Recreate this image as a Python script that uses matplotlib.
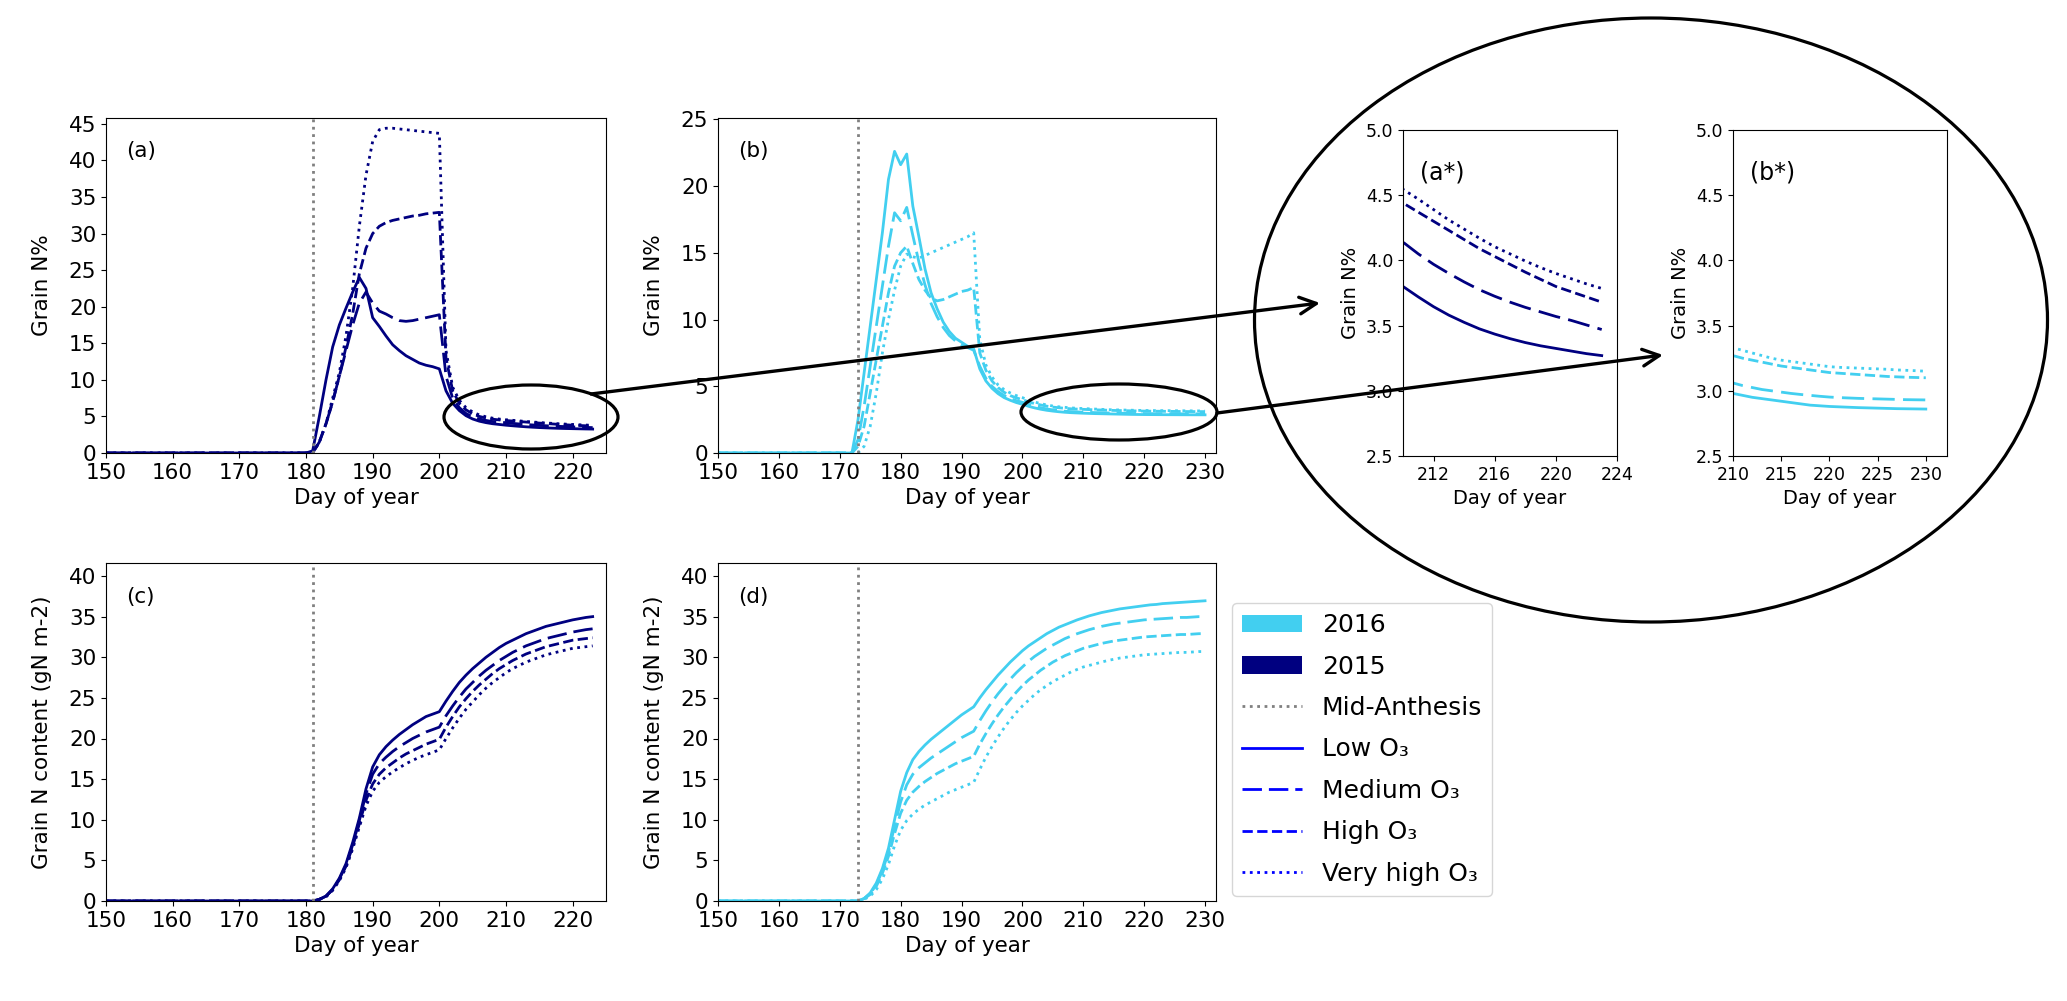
import numpy as np
import matplotlib.pyplot as plt
from matplotlib.patches import Ellipse, FancyArrowPatch, Patch
from matplotlib.lines import Line2D

W, H = 2067, 1001

# ---- data -------------------------------------------------------------
anthesis_2015 = 181
anthesis_2016 = 173
days_2015 = np.arange(150, 224)
days_2016 = np.arange(150, 231)
treatments = ['Low', 'Medium', 'High', 'Very high']

# grain N% 2015, days 181..223 (zero before anthesis)
npct_2015_low = [0.3, 5.0, 10.0, 14.5, 17.5, 19.8, 22.0, 24.0, 22.5, 18.5,
                 17.3, 16.0, 14.8, 14.0, 13.3, 12.8, 12.3, 12.0, 11.8, 11.5,
                 8.5, 6.8, 5.8, 5.1, 4.65, 4.35, 4.15, 4.0, 3.9, 3.80,
                 3.72, 3.645, 3.58, 3.525, 3.475, 3.435, 3.40, 3.37, 3.345, 3.325, 3.305, 3.285, 3.27]
npct_2015_med = [0.0, 1.5, 4.0, 7.0, 10.5, 14.0, 17.5, 20.5, 22.0, 20.5,
                 19.4, 19.0, 18.5, 18.1, 18.0, 18.1, 18.3, 18.5, 18.7, 18.9,
                 10.5, 7.5, 6.2, 5.4, 4.95, 4.65, 4.45, 4.3, 4.22, 4.14,
                 4.05, 3.97, 3.90, 3.835, 3.775, 3.725, 3.68, 3.64, 3.605, 3.57, 3.54, 3.505, 3.47]
npct_2015_high = [0.0, 1.5, 4.0, 7.0, 10.5, 14.5, 19.0, 24.5, 28.0, 30.0,
                  31.0, 31.5, 31.8, 32.0, 32.2, 32.4, 32.5, 32.7, 32.8, 32.9,
                  13.0, 8.5, 6.8, 5.9, 5.35, 5.0, 4.78, 4.62, 4.52, 4.44,
                  4.37, 4.30, 4.23, 4.16, 4.09, 4.03, 3.97, 3.91, 3.855, 3.80, 3.76, 3.72, 3.68]
npct_2015_vhigh = [0.0, 1.5, 4.0, 7.5, 11.0, 16.0, 22.5, 31.0, 38.0, 42.6,
                   44.2, 44.4, 44.4, 44.3, 44.2, 44.1, 44.0, 43.9, 43.8, 43.7,
                   14.0, 9.0, 7.2, 6.2, 5.6, 5.2, 4.95, 4.76, 4.64, 4.545,
                   4.47, 4.39, 4.31, 4.24, 4.17, 4.105, 4.05, 3.995, 3.945, 3.90, 3.86, 3.82, 3.785]

# grain N% 2016, days 173..230
npct_2016_low = [2.5, 6.0, 9.5, 13.0, 16.5, 20.5, 22.6, 21.6, 22.4, 18.5,
                 16.2, 13.8, 12.0, 10.8, 9.8, 9.1, 8.6, 8.3, 8.0, 7.8,
                 6.3, 5.4, 4.85, 4.45, 4.15, 3.95, 3.78, 3.65, 3.5, 3.38,
                 3.28, 3.2, 3.14, 3.09, 3.05, 3.02, 3.0, 2.98, 2.965, 2.95,
                 2.94, 2.93, 2.92, 2.91, 2.9, 2.89, 2.885, 2.88, 2.877, 2.874,
                 2.871, 2.869, 2.867, 2.865, 2.863, 2.862, 2.861, 2.86]
npct_2016_med = [1.0, 3.5, 6.5, 9.5, 12.5, 15.5, 18.0, 17.4, 18.4, 16.3,
                 14.3, 12.6, 11.2, 10.2, 9.4, 8.8, 8.4, 8.1, 7.9, 7.7,
                 6.5, 5.6, 5.0, 4.6, 4.3, 4.08, 3.92, 3.8, 3.64, 3.5,
                 3.39, 3.3, 3.23, 3.17, 3.13, 3.1, 3.08, 3.06, 3.04, 3.025,
                 3.01, 3.0, 2.99, 2.98, 2.972, 2.965, 2.958, 2.952, 2.948, 2.945,
                 2.942, 2.94, 2.938, 2.936, 2.934, 2.932, 2.931, 2.93]
npct_2016_high = [0.5, 2.0, 4.5, 7.0, 9.5, 12.0, 14.0, 15.0, 15.5, 14.2,
                  13.0, 12.2, 11.6, 11.4, 11.5, 11.7, 11.9, 12.1, 12.2, 12.4,
                  7.5, 6.2, 5.4, 4.9, 4.55, 4.3, 4.13, 4.0, 3.84, 3.7,
                  3.6, 3.51, 3.44, 3.39, 3.35, 3.31, 3.29, 3.27, 3.25, 3.235,
                  3.22, 3.205, 3.19, 3.18, 3.17, 3.16, 3.15, 3.14, 3.135, 3.13,
                  3.125, 3.12, 3.115, 3.11, 3.107, 3.104, 3.102, 3.10]
npct_2016_vhigh = [0.0, 0.5, 2.0, 4.5, 7.5, 10.0, 12.2, 14.0, 14.9, 14.7,
                   14.6, 14.8, 15.0, 15.2, 15.4, 15.6, 15.8, 16.0, 16.2, 16.5,
                   8.5, 6.6, 5.7, 5.1, 4.75, 4.5, 4.3, 4.15, 3.97, 3.82,
                   3.7, 3.6, 3.52, 3.46, 3.42, 3.38, 3.35, 3.33, 3.31, 3.29,
                   3.27, 3.25, 3.235, 3.225, 3.215, 3.205, 3.195, 3.185, 3.18, 3.177,
                   3.174, 3.171, 3.168, 3.165, 3.16, 3.157, 3.154, 3.15]

# grain N content (gN m-2) 2015, days 181..223
ncont_2015_low = [0.0, 0.2, 0.6, 1.5, 2.8, 4.6, 7.2, 10.2, 13.8, 16.5,
                  18.0, 19.0, 19.8, 20.5, 21.1, 21.7, 22.2, 22.7, 23.0, 23.3,
                  24.6, 25.8, 26.9, 27.8, 28.6, 29.3, 30.0, 30.6, 31.2, 31.7,
                  32.1, 32.5, 32.9, 33.2, 33.5, 33.8, 34.0, 34.2, 34.4, 34.6, 34.75, 34.9, 35.0]
ncont_2015_med = [0.0, 0.2, 0.6, 1.4, 2.7, 4.4, 6.9, 9.9, 13.2, 15.6,
                  16.9, 17.7, 18.4, 19.0, 19.5, 20.0, 20.4, 20.8, 21.1, 21.4,
                  22.8, 24.0, 25.1, 26.1, 26.9, 27.7, 28.4, 29.0, 29.6, 30.1,
                  30.6, 31.0, 31.4, 31.7, 32.0, 32.3, 32.5, 32.7, 32.9, 33.1, 33.25, 33.4, 33.5]
ncont_2015_high = [0.0, 0.2, 0.6, 1.4, 2.6, 4.3, 6.7, 9.5, 12.4, 14.4,
                   15.6, 16.4, 17.0, 17.6, 18.1, 18.5, 18.9, 19.3, 19.6, 19.9,
                   21.4, 22.7, 23.9, 24.9, 25.8, 26.6, 27.3, 28.0, 28.6, 29.1,
                   29.6, 30.0, 30.4, 30.7, 31.0, 31.3, 31.5, 31.7, 31.9, 32.1, 32.2, 32.3, 32.4]
ncont_2015_vhigh = [0.0, 0.2, 0.5, 1.3, 2.5, 4.1, 6.4, 9.1, 11.7, 13.5,
                    14.6, 15.3, 15.9, 16.4, 16.9, 17.3, 17.7, 18.0, 18.3, 18.6,
                    20.0, 21.3, 22.5, 23.6, 24.5, 25.4, 26.2, 26.9, 27.5, 28.1,
                    28.6, 29.0, 29.4, 29.7, 30.0, 30.3, 30.5, 30.7, 30.9, 31.1, 31.2, 31.3, 31.4]

# grain N content (gN m-2) 2016, days 173..230
ncont_2016_low = [0.0, 0.3, 1.0, 2.2, 4.0, 6.5, 10.0, 13.5, 15.8, 17.4,
                  18.4, 19.2, 19.9, 20.5, 21.1, 21.7, 22.3, 22.9, 23.4, 23.9,
                  25.0, 26.0, 26.9, 27.8, 28.6, 29.4, 30.1, 30.8, 31.4, 31.9,
                  32.4, 32.9, 33.3, 33.7, 34.0, 34.3, 34.6, 34.85, 35.1, 35.3,
                  35.5, 35.65, 35.8, 35.95, 36.05, 36.15, 36.25, 36.35, 36.45, 36.5,
                  36.6, 36.65, 36.7, 36.75, 36.8, 36.85, 36.9, 36.95]
ncont_2016_med = [0.0, 0.3, 0.9, 2.0, 3.7, 6.0, 9.2, 12.2, 14.3, 15.6,
                  16.4, 17.0, 17.6, 18.1, 18.6, 19.1, 19.6, 20.1, 20.5, 20.9,
                  22.2, 23.4, 24.5, 25.5, 26.4, 27.3, 28.1, 28.8, 29.5, 30.1,
                  30.6, 31.1, 31.5, 31.9, 32.3, 32.6, 32.9, 33.15, 33.4, 33.6,
                  33.8, 33.95, 34.1, 34.2, 34.3, 34.4, 34.5, 34.6, 34.65, 34.7,
                  34.75, 34.8, 34.85, 34.9, 34.9, 34.95, 35.0, 35.0]
ncont_2016_high = [0.0, 0.3, 0.8, 1.8, 3.4, 5.5, 8.3, 10.8, 12.4, 13.4,
                   14.1, 14.7, 15.2, 15.7, 16.1, 16.5, 16.9, 17.2, 17.5, 17.8,
                   19.3, 20.6, 21.8, 22.9, 23.9, 24.8, 25.7, 26.5, 27.2, 27.8,
                   28.4, 28.9, 29.4, 29.8, 30.2, 30.5, 30.8, 31.1, 31.3, 31.5,
                   31.7, 31.85, 32.0, 32.1, 32.2, 32.3, 32.4, 32.5, 32.55, 32.6,
                   32.65, 32.7, 32.75, 32.8, 32.8, 32.85, 32.9, 32.9]
ncont_2016_vhigh = [0.0, 0.2, 0.6, 1.4, 2.7, 4.5, 6.8, 8.7, 9.9, 10.7,
                    11.3, 11.8, 12.2, 12.6, 13.0, 13.4, 13.7, 14.0, 14.3, 14.6,
                    16.2, 17.7, 19.0, 20.2, 21.3, 22.3, 23.2, 24.0, 24.7, 25.4,
                    26.0, 26.5, 27.0, 27.4, 27.8, 28.2, 28.5, 28.8, 29.0, 29.2,
                    29.4, 29.6, 29.75, 29.9, 30.0, 30.1, 30.2, 30.3, 30.35, 30.4,
                    30.45, 30.5, 30.55, 30.6, 30.6, 30.65, 30.7, 30.7]

# ---- style ------------------------------------------------------------
c2015 = '#000080'
c2016 = '#42CFF0'
FS = 15.5
line_styles = ['-', (0, (7, 2.5)), '--', ':']
inset_styles = ['-', (0, (8, 3)), '--', ':']


def full(days, anthesis, vals):
    # pad with zeros up to anthesis
    n_pre = anthesis - days[0]
    return np.concatenate([np.zeros(n_pre), vals])


def rect(left, top, right, bottom):
    return [left / W, 1 - bottom / H, (right - left) / W, (bottom - top) / H]


def draw(ax, days, anthesis, series, color, styles, vline=True):
    for vals, ls in zip(series, styles):
        ax.plot(days, full(days, anthesis, vals), color=color, linestyle=ls, linewidth=2)
    if vline:
        ax.axvline(anthesis, color='grey', linestyle=':', linewidth=2)


npct_2015 = [npct_2015_low, npct_2015_med, npct_2015_high, npct_2015_vhigh]
npct_2016 = [npct_2016_low, npct_2016_med, npct_2016_high, npct_2016_vhigh]
ncont_2015 = [ncont_2015_low, ncont_2015_med, ncont_2015_high, ncont_2015_vhigh]
ncont_2016 = [ncont_2016_low, ncont_2016_med, ncont_2016_high, ncont_2016_vhigh]

fig = plt.figure(figsize=(W / 100, H / 100), dpi=100)

ax_a = fig.add_axes(rect(106, 118, 606, 453))
ax_b = fig.add_axes(rect(718, 118, 1216, 453))
ax_c = fig.add_axes(rect(106, 563, 606, 901))
ax_d = fig.add_axes(rect(718, 563, 1216, 901))
ax_as = fig.add_axes(rect(1403, 130, 1617, 456))
ax_bs = fig.add_axes(rect(1733, 130, 1947, 456))

draw(ax_a, days_2015, anthesis_2015, npct_2015, c2015, line_styles)
draw(ax_b, days_2016, anthesis_2016, npct_2016, c2016, line_styles)
draw(ax_c, days_2015, anthesis_2015, ncont_2015, c2015, line_styles)
draw(ax_d, days_2016, anthesis_2016, ncont_2016, c2016, line_styles)
draw(ax_as, days_2015, anthesis_2015, npct_2015, c2015, inset_styles, vline=False)
draw(ax_bs, days_2016, anthesis_2016, npct_2016, c2016, inset_styles, vline=False)

ax_a.set_ylim(0, 45.8)
ax_a.set_yticks(np.arange(0, 46, 5))
ax_b.set_ylim(0, 25.1)
ax_b.set_yticks(np.arange(0, 26, 5))
for ax in (ax_c, ax_d):
    ax.set_ylim(0, 41.6)
    ax.set_yticks(np.arange(0, 41, 5))
for ax in (ax_a, ax_c):
    ax.set_xlim(150, 225)
    ax.set_xticks(np.arange(150, 221, 10))
for ax in (ax_b, ax_d):
    ax.set_xlim(150, 231.8)
    ax.set_xticks(np.arange(150, 231, 10))

for ax, lab, ylab in [(ax_a, '(a)', 'Grain N%'), (ax_b, '(b)', 'Grain N%'),
                      (ax_c, '(c)', 'Grain N content (gN m-2)'),
                      (ax_d, '(d)', 'Grain N content (gN m-2)')]:
    ax.tick_params(labelsize=FS)
    ax.set_xlabel('Day of year', fontsize=FS)
    ax.set_ylabel(ylab, fontsize=FS, labelpad=12)
    ax.text(0.04, 0.9, lab, transform=ax.transAxes, fontsize=FS, va='center')

# zoomed insets
ax_as.set_xlim(210, 224)
ax_as.set_xticks([212, 216, 220, 224])
ax_bs.set_xlim(210, 232.2)
ax_bs.set_xticks([210, 215, 220, 225, 230])
for ax, lab in [(ax_as, '(a*)'), (ax_bs, '(b*)')]:
    ax.set_ylim(2.5, 5.0)
    ax.set_yticks([2.5, 3.0, 3.5, 4.0, 4.5, 5.0])
    ax.tick_params(labelsize=12.5)
    ax.set_xlabel('Day of year', fontsize=14)
    ax.set_ylabel('Grain N%', fontsize=14)
    ax.text(0.08, 0.87, lab, transform=ax.transAxes, fontsize=17, va='center')

# legend
handles = [Patch(facecolor=c2016, label='2016'),
           Patch(facecolor=c2015, label='2015'),
           Line2D([], [], color='grey', linestyle=':', linewidth=2, label='Mid-Anthesis')]
for name, ls in zip(treatments, line_styles):
    handles.append(Line2D([], [], color='blue', linestyle=ls, linewidth=2, label=name + ' O\u2083'))
fig.legend(handles=handles, loc='upper left', bbox_to_anchor=(1232 / W, 1 - 603 / H),
           fontsize=18, handlelength=2.4, labelspacing=0.7, borderaxespad=0)

# ellipses and arrows drawn over the figure
def fx(x):
    return x / W


def fy(y):
    return 1 - y / H


for cx, cy, w, h in [(1651, 320, 793, 604), (531, 417, 174, 64), (1119, 412, 196, 56)]:
    fig.add_artist(Ellipse((fx(cx), fy(cy)), w / W, h / H, transform=fig.transFigure,
                           fill=False, edgecolor='black', linewidth=2.3, zorder=10))

for (x0, y0), (x1, y1) in [((591, 394), (1320, 303)), ((1217, 413), (1663, 355))]:
    fig.add_artist(FancyArrowPatch((fx(x0), fy(y0)), (fx(x1), fy(y1)), transform=fig.transFigure,
                                   arrowstyle='->', mutation_scale=30, color='black',
                                   linewidth=2.4, zorder=10, shrinkA=0, shrinkB=0))

fig.savefig('out.png', dpi=100)
